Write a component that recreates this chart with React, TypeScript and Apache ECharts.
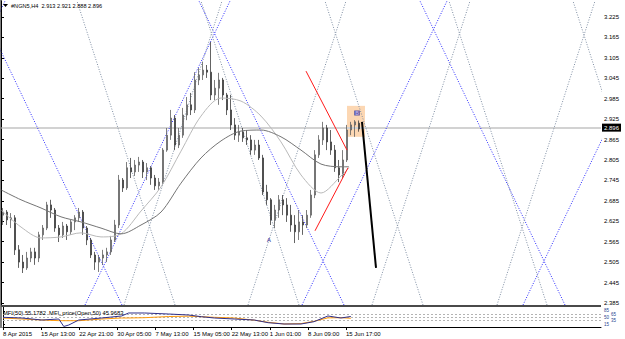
import React, { useEffect, useRef } from 'react';
import * as echarts from 'echarts';

const FONT = '"Liberation Sans", Arial, sans-serif';

const PRICE_MAX = 3.272;
const PRICE_MIN = 2.379;
const BAR_MAX = 150;

const titleText = '#NGN5,H4  2.913 2.921 2.888 2.896';
const mfiTitle = 'MFI(50) 55.1782  MFI_price(Open,50) 45.9683';

const priceTicks = [2.385, 2.445, 2.505, 2.565, 2.625, 2.685, 2.745, 2.805, 2.865, 2.925, 2.985, 3.045, 3.105, 3.165, 3.225];
const timeTickBars = [0, 9.56, 19.12, 28.68, 38.24, 47.8, 57.36, 66.92, 76.48, 86.04];
const timeTickLabels = ['8 Apr 2015', '15 Apr 13:00', '22 Apr 21:00', '30 Apr 05:00', '7 May 13:00', '15 May 05:00', '22 May 13:00', '1 Jun 01:00', '8 Jun 09:00', '15 Jun 17:00'];

// [open, close, low, high]
const candles = [
  [2.643, 2.652, 2.614, 2.664], [2.652, 2.629, 2.614, 2.658], [2.629, 2.635, 2.605, 2.649], [2.635, 2.541, 2.526, 2.643],
  [2.541, 2.505, 2.488, 2.555], [2.505, 2.488, 2.473, 2.526], [2.488, 2.517, 2.482, 2.535], [2.517, 2.535, 2.505, 2.547],
  [2.535, 2.517, 2.497, 2.547], [2.517, 2.585, 2.505, 2.594], [2.585, 2.605, 2.570, 2.614], [2.605, 2.673, 2.599, 2.682],
  [2.673, 2.658, 2.635, 2.688], [2.658, 2.605, 2.594, 2.664], [2.605, 2.585, 2.564, 2.614], [2.585, 2.611, 2.576, 2.623],
  [2.611, 2.594, 2.570, 2.617], [2.594, 2.623, 2.585, 2.629], [2.623, 2.635, 2.599, 2.643], [2.635, 2.652, 2.623, 2.664],
  [2.652, 2.605, 2.585, 2.658], [2.605, 2.570, 2.555, 2.611], [2.570, 2.526, 2.517, 2.576], [2.526, 2.505, 2.482, 2.535],
  [2.505, 2.517, 2.476, 2.526], [2.517, 2.526, 2.497, 2.541], [2.526, 2.535, 2.505, 2.547], [2.535, 2.570, 2.526, 2.582],
  [2.570, 2.614, 2.564, 2.629], [2.614, 2.746, 2.605, 2.761], [2.746, 2.723, 2.711, 2.752], [2.723, 2.782, 2.717, 2.799],
  [2.782, 2.770, 2.752, 2.811], [2.770, 2.790, 2.758, 2.805], [2.790, 2.799, 2.770, 2.814], [2.799, 2.770, 2.752, 2.805],
  [2.770, 2.782, 2.746, 2.796], [2.782, 2.752, 2.732, 2.787], [2.752, 2.729, 2.717, 2.761], [2.729, 2.740, 2.717, 2.752],
  [2.740, 2.834, 2.732, 2.840], [2.834, 2.878, 2.829, 2.899], [2.878, 2.928, 2.864, 2.952], [2.928, 2.849, 2.834, 2.937],
  [2.849, 2.878, 2.840, 2.899], [2.878, 2.937, 2.870, 2.958], [2.937, 2.967, 2.922, 2.990], [2.967, 2.952, 2.937, 3.002],
  [2.952, 3.040, 2.943, 3.063], [3.040, 3.055, 3.025, 3.075], [3.055, 3.069, 3.040, 3.093], [3.069, 3.063, 3.046, 3.084],
  [3.063, 2.996, 2.981, 3.152], [2.996, 3.016, 2.981, 3.040], [3.016, 3.040, 2.967, 3.061], [3.040, 2.996, 2.981, 3.046],
  [2.996, 2.952, 2.937, 3.002], [2.952, 2.908, 2.893, 2.996], [2.908, 2.878, 2.864, 2.928], [2.878, 2.887, 2.858, 2.908],
  [2.887, 2.870, 2.858, 2.899], [2.870, 2.864, 2.849, 2.893], [2.864, 2.834, 2.820, 2.878], [2.834, 2.849, 2.820, 2.864],
  [2.849, 2.811, 2.805, 2.864], [2.811, 2.711, 2.702, 2.820], [2.711, 2.688, 2.673, 2.732], [2.688, 2.629, 2.614, 2.693],
  [2.629, 2.658, 2.605, 2.673], [2.658, 2.688, 2.635, 2.702], [2.688, 2.673, 2.643, 2.702], [2.673, 2.643, 2.623, 2.693],
  [2.643, 2.614, 2.594, 2.673], [2.614, 2.594, 2.561, 2.643], [2.594, 2.623, 2.570, 2.658], [2.623, 2.614, 2.585, 2.643],
  [2.614, 2.643, 2.605, 2.658], [2.643, 2.702, 2.635, 2.717], [2.702, 2.820, 2.693, 2.834], [2.820, 2.864, 2.811, 2.878],
  [2.864, 2.899, 2.849, 2.917], [2.899, 2.858, 2.834, 2.908], [2.858, 2.834, 2.820, 2.893], [2.834, 2.782, 2.770, 2.849],
  [2.782, 2.761, 2.740, 2.805], [2.761, 2.805, 2.752, 2.834], [2.805, 2.893, 2.799, 2.908], [2.893, 2.908, 2.878, 2.917],
  [2.908, 2.917, 2.873, 2.922], [2.913, 2.896, 2.888, 2.921],
];
const lastClose = 2.896;

const maBars = [0, 5, 10, 15, 20, 25, 30, 35, 40, 45, 50, 55, 60, 65, 70, 75, 80, 85, 87];
const maFast = [2.658, 2.608, 2.576, 2.579, 2.591, 2.579, 2.588, 2.655, 2.726, 2.831, 2.934, 2.987, 2.978, 2.934, 2.858, 2.761, 2.708, 2.758, 2.782];
const maSlow = [2.717, 2.688, 2.664, 2.638, 2.623, 2.605, 2.588, 2.614, 2.652, 2.737, 2.811, 2.861, 2.890, 2.893, 2.873, 2.834, 2.793, 2.785, 2.785];

const mfiBars = [0, 4.75, 9.75, 14, 15.25, 16.5, 19, 24.75, 29.75, 31.5, 35.5, 41.5, 46.5, 49.75, 53, 58, 63, 66.5, 70.5, 74.75, 78, 81.5, 84.75, 87.25];
const mfiMain = [51.0, 47.4, 36.9, 42.1, 3.0, 10.7, 36.9, 47.4, 57.9, 73.6, 73.6, 68.3, 63.1, 54.2, 47.4, 42.1, 36.9, 22.8, 15.9, 15.9, 28.0, 57.9, 47.4, 55.18];
const mfiPrice = [47.4, 42.1, 36.9, 33.5, 33.2, 33.2, 33.2, 42.1, 47.4, 47.4, 49.0, 55.0, 57.0, 54.2, 51.0, 47.4, 36.0, 25.0, 16.0, 18.0, 30.0, 48.0, 49.0, 45.97];
const mfiLevels = [65, 50, 35];
const mfiLabelsA = [15, 50, 85];
const mfiLabelsB = [35, 65];

// Gann grid lines: [bar at bottom edge, bar at top edge]
const blueGann = [[-35.25, 1], [21, 57.25], [75.25, 111.5], [130.5, 166.75], [30.25, -6], [85.75, 49.5], [141, 104.75]];
const grayGann = [[30.75, 55.25], [61.75, 86.25], [92.75, 117.25], [124, 148.5], [43.5, 19], [74.5, 50], [105.5, 81], [136.5, 112], [167.5, 143]];

// trend lines: bars and prices of the two ends
const redLine1Bars = [76.25, 86.5];
const redLine1Prices = [3.066, 2.834];
const redLine2Bars = [78.5, 86.75];
const redLine2Prices = [2.597, 2.782];
const blackLineBars = [90.25, 93.75];
const blackLinePrices = [2.917, 2.488];

const boxBars = [86.5, 91];
const boxPrices = [2.964, 2.873];

const markLabels = ['A', 'B'];
const markBars = [67, 89];
const markPrices = [2.57, 2.943];

function seg(xs: number[], ys: number[], color: string, width: number, type: any, z: number) {
  return {
    type: 'line',
    xAxisIndex: 0,
    yAxisIndex: 0,
    data: [[xs[0], ys[0]], [xs[1], ys[1]]],
    symbol: 'none',
    silent: true,
    clip: true,
    z,
    lineStyle: { color, width, type },
  };
}

function buildOption() {
  const series: any[] = [];

  blueGann.forEach(([b, t]) => series.push(seg([b, t], [PRICE_MIN, PRICE_MAX], '#2a2aff', 1, [1, 1.6], 1)));
  grayGann.forEach(([b, t]) => series.push(seg([b, t], [PRICE_MIN, PRICE_MAX], '#7f8ea3', 1, [1, 1.6], 1)));

  series.push({
    type: 'candlestick',
    xAxisIndex: 0,
    yAxisIndex: 0,
    data: candles.map((c, i) => [i + 0.5, c[0], c[1], c[2], c[3]]),
    barWidth: 2.4,
    z: 2,
    silent: true,
    itemStyle: {
      color: '#a2a2a2',
      color0: '#3c3c3c',
      borderColor: '#5e5e5e',
      borderColor0: '#3c3c3c',
      borderWidth: 0.8,
    },
    markArea: {
      silent: true,
      z: 0.5,
      itemStyle: { color: '#fcd7b3' },
      data: [[{ coord: [boxBars[0], boxPrices[0]] }, { coord: [boxBars[1], boxPrices[1]] }]],
    },
    markLine: {
      silent: true,
      z: 1,
      symbol: 'none',
      data: [{ yAxis: lastClose }],
      lineStyle: { color: '#d2d2d2', width: 2, type: 'solid' },
      label: {
        show: true,
        position: 'end',
        distance: 1,
        formatter: lastClose.toFixed(3),
        backgroundColor: '#000',
        color: '#fff',
        fontSize: 6,
        fontFamily: FONT,
        padding: [1, 2, 1, 2],
      },
    },
  });

  series.push({
    type: 'line', xAxisIndex: 0, yAxisIndex: 0, symbol: 'none', silent: true, smooth: 0.3, z: 2.5,
    data: maBars.map((b, i) => [b, maFast[i]]),
    lineStyle: { color: '#b9b9b9', width: 1 },
  });
  series.push({
    type: 'line', xAxisIndex: 0, yAxisIndex: 0, symbol: 'none', silent: true, smooth: 0.3, z: 2.5,
    data: maBars.map((b, i) => [b, maSlow[i]]),
    lineStyle: { color: '#747474', width: 1 },
  });

  series.push(seg(redLine1Bars, redLine1Prices, '#ff1a1a', 1, 'solid', 3));
  series.push(seg(redLine2Bars, redLine2Prices, '#ff1a1a', 1, 'solid', 3));
  series.push(seg(blackLineBars, blackLinePrices, '#000000', 2, 'solid', 3));

  series.push({
    type: 'scatter', xAxisIndex: 0, yAxisIndex: 0, silent: true, z: 4,
    symbolSize: 0,
    data: markLabels.map((t, i) => ({
      value: [markBars[i], markPrices[i]],
      label: t === 'B'
        ? { show: true, position: 'inside', formatter: t, fontSize: 5, fontWeight: 'bold', color: '#d9ccff', backgroundColor: '#33339a', padding: [0, 1, 0, 1], fontFamily: FONT }
        : { show: true, position: 'inside', formatter: t, fontSize: 6, fontWeight: 'bold', color: '#23238f', fontFamily: FONT },
    })),
  });

  series.push({
    type: 'line', xAxisIndex: 1, yAxisIndex: 1, symbol: 'none', silent: true, z: 3,
    data: mfiBars.map((b, i) => [b, mfiMain[i]]),
    lineStyle: { color: '#2f2f8a', width: 1 },
    markLine: {
      silent: true, symbol: 'none', z: 1,
      data: mfiLevels.map((v) => ({ yAxis: v })),
      lineStyle: { color: '#b3b3b3', width: 1, type: [2, 2] },
      label: { show: false },
    },
  });
  series.push({
    type: 'line', xAxisIndex: 1, yAxisIndex: 1, symbol: 'none', silent: true, z: 2,
    data: mfiBars.map((b, i) => [b, mfiPrice[i]]),
    lineStyle: { color: '#ff9a0a', width: 1 },
  });

  const mfiAxisBase = {
    type: 'value', gridIndex: 1, position: 'right', min: -5, max: 105,
    splitLine: { show: false },
  };

  return {
    animation: false,
    backgroundColor: '#ffffff',
    textStyle: { fontFamily: FONT },
    grid: [
      { left: 1, top: 1, width: 600, height: 304 },
      { left: 1, top: 307, width: 600, height: 21 },
    ],
    xAxis: [
      { type: 'value', gridIndex: 0, min: 0, max: BAR_MAX, show: false },
      {
        type: 'value', gridIndex: 1, min: 0, max: BAR_MAX,
        axisLine: { show: true, lineStyle: { color: '#000', width: 1 } },
        axisTick: { show: true, customValues: timeTickBars, length: 3, lineStyle: { color: '#000' } },
        axisLabel: {
          customValues: timeTickBars,
          align: 'left',
          margin: 3,
          fontSize: 6,
          color: '#000',
          fontFamily: FONT,
          formatter: (v: number) => {
            const i = timeTickBars.findIndex((b) => Math.abs(b - v) < 0.01);
            return i >= 0 ? timeTickLabels[i] : '';
          },
        },
        splitLine: { show: false },
      },
    ],
    yAxis: [
      {
        type: 'value', gridIndex: 0, position: 'right', min: PRICE_MIN, max: PRICE_MAX,
        axisLine: { show: true, lineStyle: { color: '#000', width: 1 } },
        axisTick: { show: true, customValues: priceTicks, length: 3, lineStyle: { color: '#000' } },
        axisLabel: { customValues: priceTicks, margin: 3, fontSize: 6, color: '#000', fontFamily: FONT, formatter: (v: number) => v.toFixed(3) },
        splitLine: { show: false },
      },
      {
        ...mfiAxisBase,
        axisLine: { show: true, lineStyle: { color: '#000', width: 1 } },
        axisTick: { show: true, customValues: mfiLabelsA, length: 2, lineStyle: { color: '#000' } },
        axisLabel: { customValues: mfiLabelsA, margin: 3, fontSize: 4.5, color: '#1f3f8f', fontFamily: FONT },
      },
      {
        ...mfiAxisBase,
        offset: 7,
        axisLine: { show: false },
        axisTick: { show: false },
        axisLabel: { customValues: mfiLabelsB, margin: 3, fontSize: 4.5, color: '#1f3f8f', fontFamily: FONT },
      },
    ],
    graphic: [
      { type: 'line', silent: true, z: 10, shape: { x1: 1, y1: 0, x2: 1, y2: 328 }, style: { stroke: '#000', lineWidth: 1 } },
      { type: 'rect', silent: true, z: 10, shape: { x: 1, y: 305, width: 600, height: 2 }, style: { fill: '#4a4a4a' } },
      { type: 'polygon', silent: true, z: 10, shape: { points: [[3, 4], [8, 4], [5.5, 7]] }, style: { fill: '#000' } },
      { type: 'text', silent: true, z: 10, left: 11, top: 3, style: { text: titleText, fontSize: 5.6, fill: '#000', fontFamily: FONT } },
      { type: 'text', silent: true, z: 10, left: 3, top: 309.5, style: { text: mfiTitle, fontSize: 5.8, fill: '#000', fontFamily: FONT } },
    ],
    series,
  };
}

export default function App() {
  const ref = useRef<HTMLDivElement>(null);
  useEffect(() => {
    if (!ref.current) return;
    const chart = echarts.init(ref.current, null, { renderer: 'svg' });
    chart.setOption(buildOption() as any);
    return () => chart.dispose();
  }, []);
  return <div ref={ref} style={{ position: 'fixed', left: 0, top: 0, width: 625, height: 339, background: '#fff' }} />;
}
